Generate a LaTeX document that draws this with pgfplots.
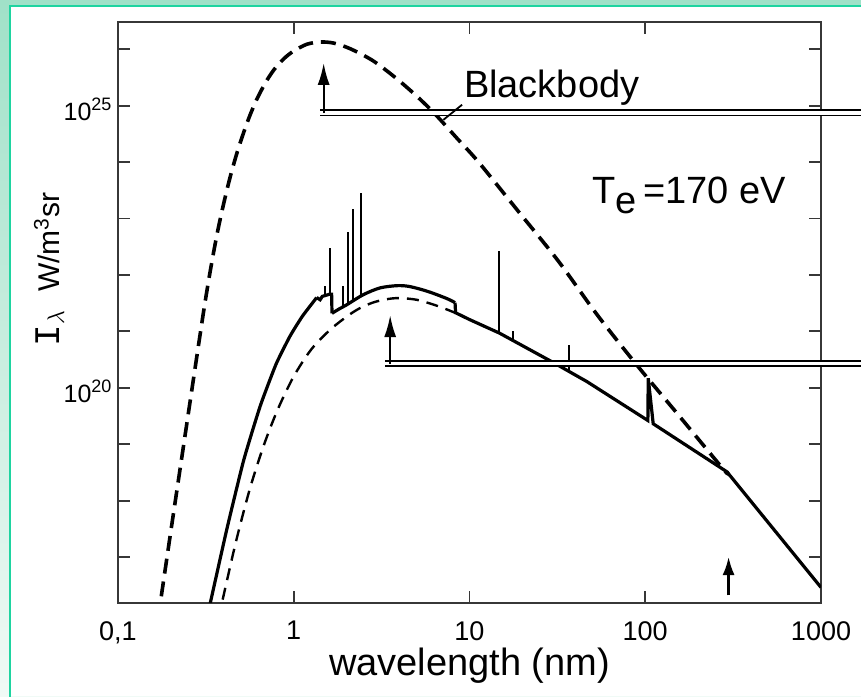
\documentclass[border=0pt]{standalone}
\usepackage{pgfplots}
\pgfplotsset{compat=1.18}
\usepackage{fontspec}
\setmainfont{Liberation Sans}
\newfontfamily\monofont{Liberation Mono}
\usetikzlibrary{arrows.meta}
\definecolor{mintA}{RGB}{160,225,200}
\definecolor{mintB}{RGB}{240,250,246}
\definecolor{frameG}{RGB}{30,212,160}
\definecolor{axgray}{RGB}{55,55,55}
\newcommand\fBig{\fontsize{19}{22}\selectfont}
\newcommand\fLab{\fontsize{19}{22}\selectfont}
\newcommand\fTick{\fontsize{13.5}{15}\selectfont}
\newcommand\fYt{\fontsize{12.5}{14}\selectfont}
\newcommand\fExp{\fontsize{9}{10}\selectfont}
\begin{document}
\begin{tikzpicture}
\useasboundingbox (0,0) rectangle (430.5pt,348pt);
\shade[top color=mintA, bottom color=mintB] (0,0) rectangle (430.5pt,348pt);
\fill[white] (5pt,0) rectangle (432pt,345pt);
\draw[frameG, line width=1pt] (5pt,-2pt) -- (5pt,345pt) -- (433pt,345pt);
\begin{axis}[
  at={(58.95pt,46.65pt)}, anchor=south west,
  scale only axis, width=351.55pt, height=290.5pt,
  xmode=log, ymode=log,
  xmin=0.1, xmax=1000, ymin=1.55e16, ymax=3.09e26,
  clip mode=individual,
  axis line style={axgray, line width=1pt},
  tick style={axgray, line width=0.9pt},
  major tick length=6pt,
  tick align=inside,
  xminorticks=false, yminorticks=false,
  xtick={0.1,1,10,100,1000},
  xticklabels={{0,1},1,10,100,1000},
  ytick={1e17,1e18,1e19,1e20,1e21,1e22,1e23,1e24,1e25,1e26},
  yticklabels={,,,{10\raisebox{5pt}{\fExp 20}},,,,,{10\raisebox{5pt}{\fExp 25}},},
  xticklabel style={font=\fTick, yshift=-5.8pt},
  yticklabel style={font=\fYt, inner xsep=0pt, xshift=-3pt, yshift=-2pt},
]
% blackbody (thick dashed)
\addplot[black, line width=1.8pt, dash pattern=on 7.5pt off 4pt, smooth] coordinates {
(0.1690,7.943e15) (0.1995,2.692e17) (0.2344,7.943e18) (0.2698,1.514e20)
(0.3076,2.291e21) (0.3357,1.202e22) (0.3664,5.248e22) (0.3981,1.738e23)
(0.4355,5.495e23) (0.4786,1.549e24) (0.5200,3.388e24) (0.5623,6.607e24)
(0.6180,1.318e25) (0.6918,2.570e25) (0.7691,4.266e25) (0.8770,6.761e25)
(1.0,9.333e25) (1.189,1.230e26) (1.416,1.349e26) (1.690,1.288e26)
(2.099,1.023e26) (2.818,6.310e25) (3.784,3.162e25) (5.012,1.479e25)
(6.383,7.079e24) (8.511,2.630e24) (11.27,1.0e24) (19.05,1.318e23)
(32.14,1.738e22) (53.09,1.995e21) (89.74,2.512e20) (151.4,3.548e19)
(279.3,3.548e18) (291.7,3.236e18)
};
% continuum (thin dashed)
\addplot[black, line width=1.2pt, dash pattern=on 6pt off 4pt, smooth] coordinates {
(0.3715,7.943e15) (0.3908,1.549e16) (0.4677,1.778e17) (0.5623,1.585e18)
(0.6761,9.550e18) (0.8128,4.169e19) (1.0,1.585e20) (1.259,4.786e20)
(1.614,1.072e21) (2.0,1.820e21) (2.344,2.512e21) (2.818,3.236e21)
(3.381,3.715e21) (3.981,3.890e21) (5.012,3.631e21) (6.310,2.951e21)
(7.413,2.455e21) (8.279,2.138e21)
};
% total spectrum (solid)
\addplot[black, line width=1.6pt, smooth, tension=0.3] coordinates {
(0.3199,7.943e15) (0.3357,1.549e16) (0.4178,3.236e17) (0.5200,5.248e18)
(0.6457,4.786e19) (0.7943,2.630e20) (0.9550,8.318e20) (1.122,1.862e21)
(1.352,3.981e21)
};
\addplot[black, line width=1.6pt] coordinates {
(1.352,3.981e21) (1.413,3.631e21) (1.455,4.169e21) (1.607,4.571e21)
(1.644,4.571e21) (1.652,2.089e21)
};
\addplot[black, line width=1.6pt, smooth] coordinates {
(1.652,2.089e21) (1.820,2.512e21) (2.000,2.951e21) (2.489,4.467e21)
(3.097,5.888e21) (3.855,6.457e21) (4.467,6.310e21) (5.224,5.623e21)
(6.026,4.898e21) (6.792,4.266e21) (7.586,3.715e21) (8.279,3.236e21)
};
\addplot[black, line width=1.6pt] coordinates {
(8.279,3.236e21) (8.337,2.138e21) (10,1.622e21) (14.79,9.333e20)
(29.51,2.884e20) (46.56,1.288e20) (103.5,2.630e19) (104.0,1.479e20)
(111.0,2.300e19) (291.7,3.236e18) (1000,2.884e16)
};
% emission lines
\addplot[black, line width=1pt, unbounded coords=jump] coordinates {
(1.507,4.266e21) (1.507,6.457e21) (1.507,nan)
(1.614,4.571e21) (1.614,3.020e22) (1.614,nan)
(1.914,2.818e21) (1.914,6.310e21) (1.914,nan)
(2.046,3.162e21) (2.046,5.888e22) (2.046,nan)
(2.183,3.548e21) (2.183,1.479e23) (2.183,nan)
(2.415,4.266e21) (2.415,2.818e23) (2.415,nan)
(14.79,9.333e20) (14.79,2.630e22) (14.79,nan)
(17.62,7.079e20) (17.62,1.0e21) (17.62,nan)
(36.98,1.950e20) (36.98,5.754e20)
};
% annotations
\draw[black, line width=0.95pt, double=white, double distance=1.9pt]
  (axis cs:1.417,7.551e24) -- (axis cs:2000,7.551e24);
\draw[black, line width=0.95pt, double=white, double distance=1.9pt]
  (axis cs:3.32,2.704e20) -- (axis cs:2000,2.704e20);
\draw[black, line width=1.1pt, -{Latex[length=11pt,width=6pt]}]
  (axis cs:1.481,7.4e24) -- (axis cs:1.481,5.754e25);
\draw[black, line width=1.1pt, -{Latex[length=11pt,width=6pt]}]
  (axis cs:3.54,2.65e20) -- (axis cs:3.54,1.950e21);
\draw[black, line width=1.1pt, -{Latex[length=9pt,width=6pt]}]
  (axis cs:298,2.089e16) -- (axis cs:298,1.0e17);
\draw[black, line width=0.9pt] (axis cs:9.08,1.042e25) -- (axis cs:7.11,5.623e24);
\node[anchor=base west, inner sep=0pt, font=\fBig] at (axis cs:9.268,1.371e25) {Blackbody};
\node[anchor=base west, inner sep=0pt, font=\fBig] at (axis cs:49.77,1.884e23)
  {T\raisebox{-5pt}{e}\,=170 eV};
\end{axis}
\node[anchor=base, inner sep=0pt, font=\fLab] at (234.75pt,10.5pt) {wavelength (nm)};
\node[anchor=base, rotate=90, inner sep=0pt, font=\fontsize{15}{17}\selectfont] at (29.5pt,213.25pt)
  {{\monofont\fontsize{18}{18}\selectfont I}{\fontsize{18}{18}\selectfont$_{\lambda}$}\hspace{9pt}W/m\textsuperscript{3}sr};
\end{tikzpicture}
\end{document}
